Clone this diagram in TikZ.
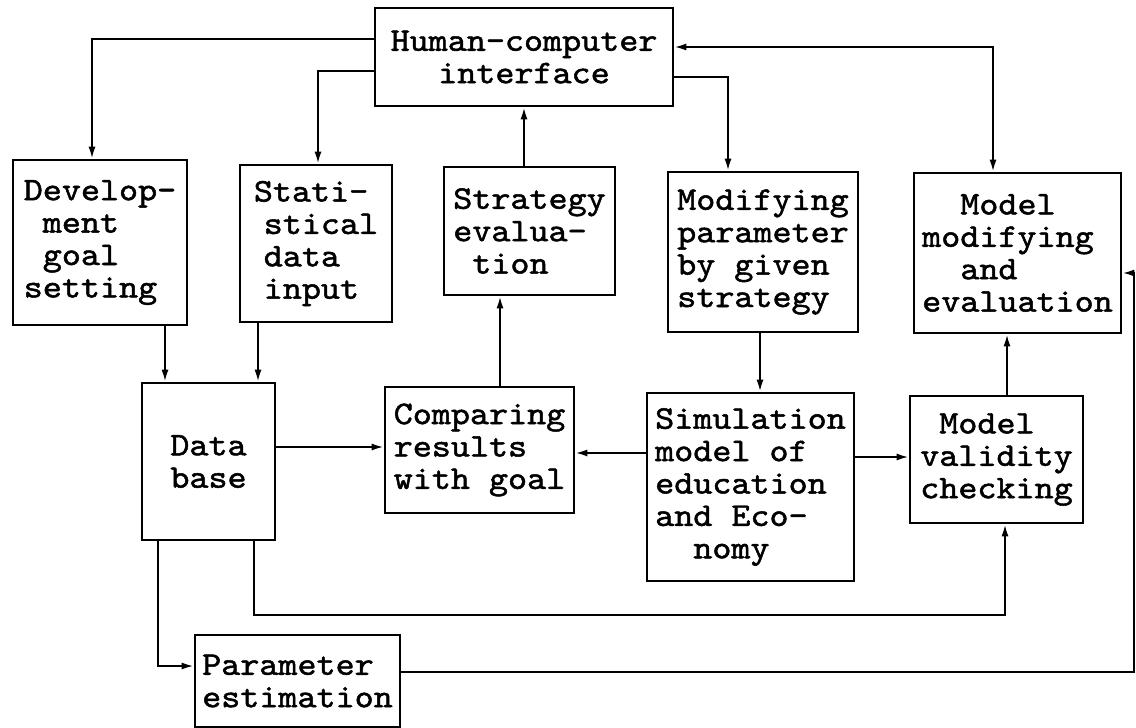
\documentclass[tikz,border=0pt]{standalone}
\usepackage{fontspec}
\usepackage{tikz}
\usetikzlibrary{arrows.meta,positioning,calc}
\newfontfamily\boxfont{lmmono10-regular.otf}[FakeBold=1.5,FakeStretch=1.1]
\newcommand{\ind}{\hphantom{x}}

\begin{document}
\begin{tikzpicture}[
    x=0.5pt, y=-0.5pt,
    % --- node styles ---
    block/.style={
      rectangle, draw=black, line width=1.3pt, inner sep=0pt,
      align=left, font=\boxfont\fontsize{16.5pt}{16.2pt}\selectfont},
    arr/.style={-{Latex[length=6pt,width=3.5pt]}, line width=1pt},
    darr/.style={{Latex[length=6pt,width=3.5pt]}-{Latex[length=6pt,width=3.5pt]}, line width=1pt},
  ]
  \useasboundingbox (0,0) rectangle (1136,728);

  % ============== TOP ==============
  \node[block, align=center, minimum width=149pt, minimum height=49pt] (hci) at (524,57)
    {Human-computer\\interface};

  % ============== UPPER ROW ==============
  \node[block, minimum width=87pt, minimum height=82.5pt] (develop) at (100,242.5)
    {Develop-\\\ind ment\\\ind goal\\setting};
  \node[block, minimum width=76pt, minimum height=78.5pt] (statin) at (316,243.5)
    {Stati-\\\hspace*{0.3em}stical\\\hspace*{0.3em}data\\\hspace*{0.3em}input};
  \node[block, minimum width=85.5pt, minimum height=64pt] (strateval) at (529.5,231)
    {Strategy\\evalua-\\\ind tion};
  \node[block, minimum width=95pt, minimum height=80pt] (modpar) at (763,252)
    {Modifying\\parameter\\by given\\strategy};
  \node[block, minimum width=103.5pt, minimum height=80pt] (modmod) at (1017.5,253)
    {\ind\ind Model\\modifying\\\ind\ind and\\evaluation};

  % ============== LOWER ROW ==============
  \node[block, align=center, minimum width=66.5pt, minimum height=78.5pt] (database) at (208.5,461.5)
    {Data\\base};
  \node[block, minimum width=94.5pt, minimum height=63pt] (compare) at (479.5,450)
    {Comparing\\results\\with goal};
  \node[block, minimum width=103.5pt, minimum height=94pt] (simmodel) at (750.5,487)
    {Simulation\\model of\\education\\and Eco-\\\ind\ind nomy};
  \node[block, minimum width=86.5pt, minimum height=63.5pt] (validity) at (996.5,459.5)
    {\ind Model\\validity\\checking};
  \node[block, minimum width=102.5pt, minimum height=46pt] (paramest) at (297.5,681)
    {Parameter\\estimation};

  % ============== HELPER POINTS ==============
  \coordinate (db1) at ($(database.north)+(-43.5,0)$);
  \coordinate (db2) at ($(database.north)+(49.5,0)$);
  \coordinate (db3) at ($(database.east)+(0,-14.5)$);
  \coordinate (db4) at ($(database.south)+(45.5,0)$);
  \coordinate (db5) at ($(database.south)+(-50.5,0)$);
  \coordinate (cp1) at ($(compare.north)+(20.5,0)$);
  \coordinate (sm1) at ($(simmodel.north)+(9.5,0)$);
  \coordinate (sm2) at ($(simmodel.west)+(0,-34)$);
  \coordinate (sm3) at ($(simmodel.east)+(0,-30)$);
  \coordinate (mv1) at ($(validity.north)+(10.5,0)$);
  \coordinate (mv2) at ($(validity.south)+(8.5,0)$);
  \coordinate (pe1) at ($(paramest.west)+(0,-15)$);
  \coordinate (pe2) at ($(paramest.east)+(0,-9)$);
  \coordinate (mm1) at ($(modmod.east)+(0,20)$);

  % ============== ARROWS ==============
  \draw[arr] ($(hci.west)+(0,-18)$) -| ($(develop.north)+(-8,0)$);
  \draw[arr] ($(hci.west)+(0,14)$)  -| ($(statin.north)+(2,0)$);
  \draw[arr] ($(hci.east)+(0,20)$)  -| ($(modpar.north)+(-35,0)$);
  \draw[darr] ($(hci.east)+(0,-10)$) -| ($(modmod.north)+(-24.5,0)$);
  \draw[arr] (hci.south |- strateval.north) -- (hci.south);

  \draw[arr] (develop.south -| db1) -- (db1);
  \draw[arr] (statin.south -| db2)  -- (db2);
  \draw[arr] (cp1) -- (cp1 |- strateval.south);
  \draw[arr] (modpar.south -| sm1)  -- (sm1);

  \draw[arr] (db3) -- (db3 -| compare.west);
  \draw[arr] (sm2) -- (sm2 -| compare.east);
  \draw[arr] (sm3) -- (sm3 -| validity.west);
  \draw[arr] (mv1) -- (mv1 |- modmod.south);

  % data base feeds checking and estimation
  \draw[arr] (db4) -- ++(0,74) -| (mv2);
  \draw[arr] (db5) |- (pe1);

  % estimation back to model modifying
  \draw[arr] (pe2) -- ++(733,0) |- (mm1);

\end{tikzpicture}
\end{document}
